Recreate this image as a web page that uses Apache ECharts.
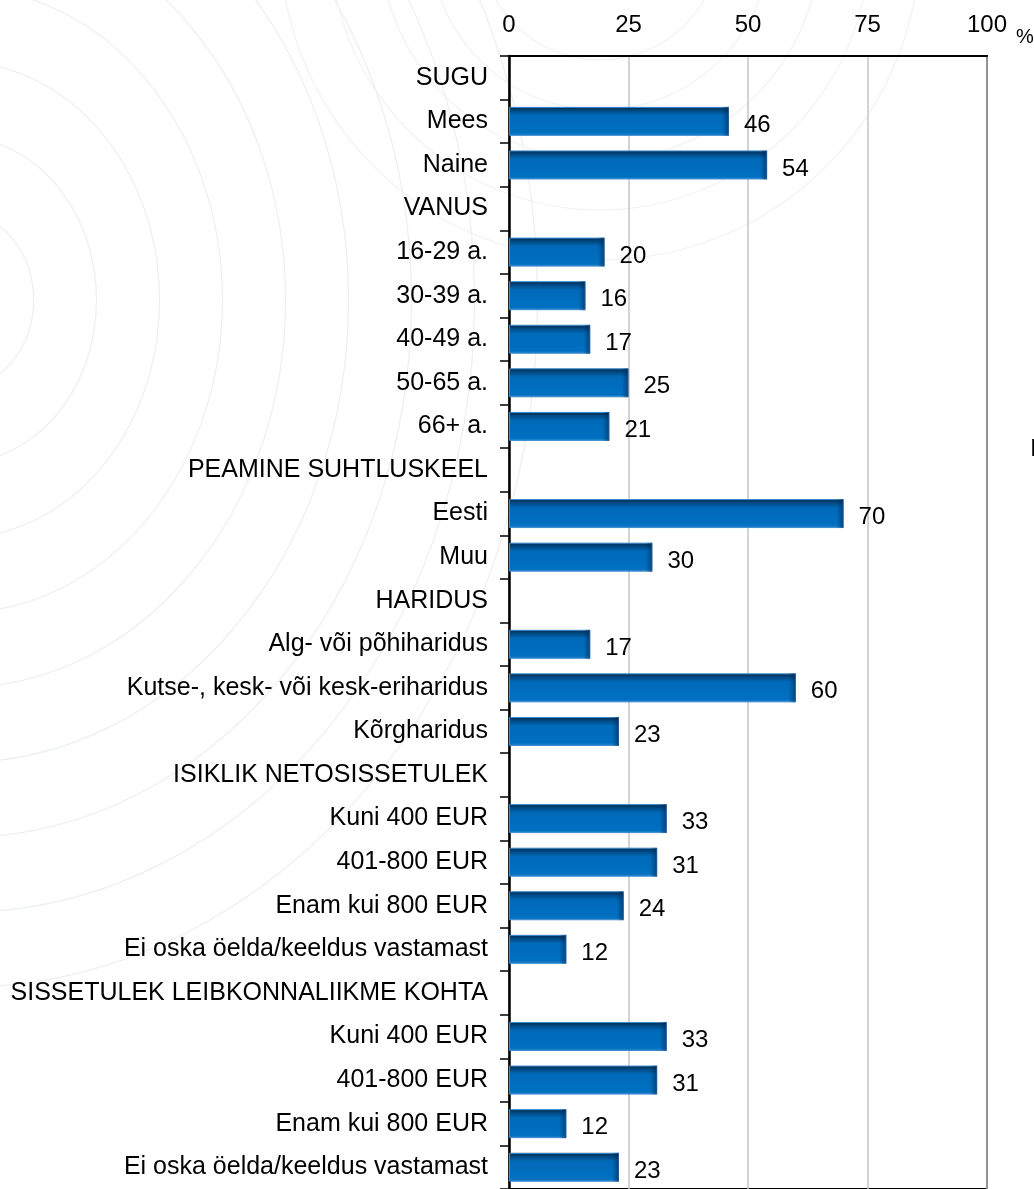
<!DOCTYPE html>
<html>
<head>
<meta charset="utf-8">
<title>Vastajate profiil</title>
<script src="https://cdn.jsdelivr.net/npm/echarts@6/dist/echarts.min.js"></script>
<style>
  html, body { margin: 0; padding: 0; background: #fff; }
  #main { width: 1034px; height: 1189px; }
</style>
</head>
<body>
<div id="main"></div>
<script>
// categories top to bottom, group headers have no bar
var categories = [
  'SUGU', 'Mees', 'Naine',
  'VANUS', '16-29 a.', '30-39 a.', '40-49 a.', '50-65 a.', '66+ a.',
  'PEAMINE SUHTLUSKEEL', 'Eesti', 'Muu',
  'HARIDUS', 'Alg- või põhiharidus', 'Kutse-, kesk- või kesk-eriharidus', 'Kõrgharidus',
  'ISIKLIK NETOSISSETULEK', 'Kuni 400 EUR', '401-800 EUR', 'Enam kui 800 EUR', 'Ei oska öelda/keeldus vastamast',
  'SISSETULEK LEIBKONNALIIKME KOHTA', 'Kuni 400 EUR', '401-800 EUR', 'Enam kui 800 EUR', 'Ei oska öelda/keeldus vastamast'
];
var shares = [
  null, 46, 54,
  null, 20, 16, 17, 25, 21,
  null, 70, 30,
  null, 17, 60, 23,
  null, 33, 31, 24, 12,
  null, 33, 31, 12, 23
];
var xTicks = [0, 25, 50, 75, 100];

var FONT = '"Liberation Sans", Arial, sans-serif';
var PX_PER_UNIT = 478 / 100;
var chart = echarts.init(document.getElementById('main'));

// faint background swirl (decoration only)
var deco = [];
[70, 130, 190, 250, 310, 370, 430, 490, 550].forEach(function (r) {
  deco.push({
    type: 'ellipse', silent: true, z: -10,
    shape: { cx: -40, cy: 300, rx: r * 1.05, ry: r * 1.25 },
    style: { fill: 'none', stroke: '#ebeef3', lineWidth: 1.2 }
  });
});
[120, 170, 220, 270, 320].forEach(function (r) {
  deco.push({
    type: 'circle', silent: true, z: -10,
    shape: { cx: 600, cy: -60, r: r },
    style: { fill: 'none', stroke: '#eef1f5', lineWidth: 1.1 }
  });
});

var option = {
  backgroundColor: '#fff',
  animation: false,
  grid: {
    left: 509, top: 56, width: 478, height: 1135,
    show: true, borderColor: '#000', borderWidth: 2, backgroundColor: 'transparent'
  },
  xAxis: {
    type: 'value',
    position: 'top',
    min: 0, max: 100, interval: 25,
    axisLine: { show: true, lineStyle: { color: '#000', width: 2 } },
    axisTick: { show: false },
    axisLabel: {
      color: '#000', fontSize: 24, fontFamily: FONT, margin: 19,
      formatter: function (v) { return xTicks.indexOf(v) >= 0 ? String(v) : ''; }
    },
    splitLine: { show: true, lineStyle: { color: '#c4c4c4', width: 1.5 } }
  },
  yAxis: {
    type: 'category',
    inverse: true,
    data: categories,
    axisLine: { show: true, lineStyle: { color: '#000', width: 2.5 } },
    axisTick: { show: true, length: 9, inside: false, lineStyle: { color: '#000', width: 1.5 } },
    axisLabel: {
      color: '#000', fontSize: 25, fontFamily: FONT, margin: 21,
      padding: [0, 0, 7, 0], interval: 0
    },
    splitLine: { show: false }
  },
  series: [{
    type: 'bar',
    data: shares,
    barWidth: 29,
    itemStyle: {
      color: new echarts.graphic.LinearGradient(0, 0, 0, 1, [
        { offset: 0, color: '#00284c' },
        { offset: 0.12, color: '#00477f' },
        { offset: 0.3, color: '#006ab9' },
        { offset: 0.9, color: '#0070c0' },
        { offset: 1, color: '#2c86d2' }
      ]),
      borderColor: '#3b8bd0',
      borderWidth: 1
    },
    label: {
      show: true, position: 'right', distance: 15, offset: [0, 4],
      color: '#000', fontSize: 24, fontFamily: FONT
    }
  }, {
    // darker shading at the end of each bar
    type: 'bar',
    data: shares,
    barWidth: 29,
    barGap: '-100%',
    silent: true,
    itemStyle: {
      color: function (p) {
        var len = (p.value || 1) * PX_PER_UNIT;
        var start = Math.max(0, 1 - 7 / len);
        return new echarts.graphic.LinearGradient(0, 0, 1, 0, [
          { offset: 0, color: 'rgba(0,30,70,0)' },
          { offset: start, color: 'rgba(0,30,70,0)' },
          { offset: 1, color: 'rgba(0,30,70,0.55)' }
        ]);
      }
    }
  }],
  graphic: deco.concat([
    {
      type: 'text', left: 1016, top: 27,
      style: { text: '%', fill: '#000', font: '20px ' + FONT }
    },
    {
      type: 'text', left: 1030, top: 437,
      style: { text: 'I', fill: '#000', font: '24px ' + FONT }
    }
  ])
};
chart.setOption(option);
</script>
</body>
</html>
